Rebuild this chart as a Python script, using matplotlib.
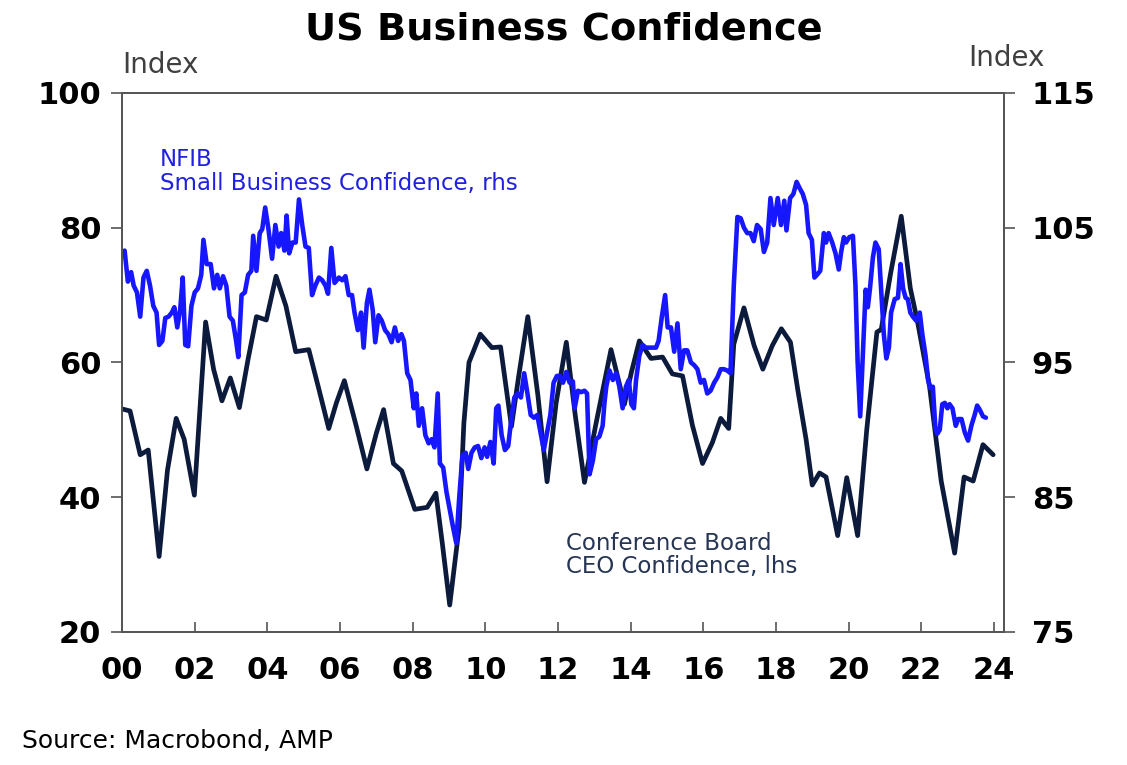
import matplotlib.pyplot as plt

# NFIB small business optimism index (rhs)
nfib_year = [2000.07, 2000.16, 2000.25, 2000.32, 2000.41, 2000.50, 2000.59, 2000.68, 2000.77, 2000.86, 2000.95,
             2001.02, 2001.11, 2001.19, 2001.28, 2001.37, 2001.44, 2001.52, 2001.60, 2001.67, 2001.74, 2001.82, 2001.91,
             2002.00, 2002.09, 2002.18, 2002.24, 2002.33, 2002.44, 2002.53, 2002.62, 2002.69, 2002.78, 2002.87, 2002.96,
             2003.05, 2003.14, 2003.20, 2003.29, 2003.38, 2003.47, 2003.56, 2003.61, 2003.70, 2003.79, 2003.86, 2003.94,
             2004.03, 2004.13, 2004.22, 2004.31, 2004.38, 2004.47, 2004.53, 2004.60, 2004.69, 2004.78, 2004.87, 2004.96,
             2005.05, 2005.14, 2005.23, 2005.32, 2005.42, 2005.51, 2005.60, 2005.67, 2005.76, 2005.85, 2005.97,
             2006.06, 2006.15, 2006.24, 2006.33, 2006.40, 2006.49, 2006.58, 2006.65, 2006.74, 2006.81, 2006.90, 2006.97,
             2007.06, 2007.15, 2007.24, 2007.33, 2007.42, 2007.51, 2007.60, 2007.69, 2007.76, 2007.85, 2007.94,
             2008.03, 2008.10, 2008.17, 2008.26, 2008.35, 2008.44, 2008.52, 2008.60, 2008.69, 2008.75, 2008.84, 2008.93,
             2009.02, 2009.11, 2009.20, 2009.28, 2009.37, 2009.46, 2009.53, 2009.62, 2009.71, 2009.80, 2009.89, 2009.98,
             2010.05, 2010.14, 2010.23, 2010.30, 2010.36, 2010.45, 2010.54, 2010.63, 2010.72, 2010.80, 2010.89, 2010.98,
             2011.07, 2011.16, 2011.25, 2011.34, 2011.43, 2011.52, 2011.61, 2011.70, 2011.79, 2011.88, 2011.97,
             2012.05, 2012.14, 2012.23, 2012.32, 2012.41, 2012.46, 2012.55, 2012.64, 2012.73, 2012.80, 2012.87, 2012.96,
             2013.05, 2013.14, 2013.23, 2013.28, 2013.33, 2013.42, 2013.51, 2013.60, 2013.69, 2013.78, 2013.87, 2013.95,
             2014.02, 2014.09, 2014.15, 2014.24, 2014.33, 2014.42, 2014.51, 2014.61, 2014.70, 2014.77, 2014.86, 2014.95,
             2015.02, 2015.11, 2015.20, 2015.29, 2015.38, 2015.47, 2015.56, 2015.66, 2015.75, 2015.84, 2015.93,
             2016.02, 2016.11, 2016.20, 2016.30, 2016.39, 2016.48, 2016.57, 2016.66, 2016.75, 2016.84, 2016.94,
             2017.03, 2017.12, 2017.21, 2017.30, 2017.39, 2017.48, 2017.58, 2017.67, 2017.76, 2017.85, 2017.94,
             2018.05, 2018.14, 2018.23, 2018.29, 2018.39, 2018.48, 2018.57, 2018.64, 2018.74, 2018.83, 2018.90, 2018.99,
             2019.06, 2019.13, 2019.22, 2019.32, 2019.38, 2019.45, 2019.55, 2019.64, 2019.73, 2019.79, 2019.87, 2019.93,
             2020.02, 2020.12, 2020.19, 2020.25, 2020.32, 2020.39, 2020.47, 2020.53, 2020.59, 2020.67, 2020.74, 2020.83,
             2020.90, 2020.97, 2021.04, 2021.11, 2021.17, 2021.27, 2021.36, 2021.43, 2021.50, 2021.57, 2021.63, 2021.70,
             2021.77, 2021.86, 2021.96, 2022.03, 2022.12, 2022.19, 2022.25, 2022.32, 2022.39, 2022.44, 2022.51, 2022.58,
             2022.65, 2022.72, 2022.78, 2022.86, 2022.95, 2023.02, 2023.11, 2023.20, 2023.29, 2023.38, 2023.47, 2023.54,
             2023.61, 2023.70, 2023.78]
nfib = [103.3, 101.0, 101.7, 100.7, 100.2, 98.4, 101.3, 101.8, 100.7, 99.2, 98.7,
        96.3, 96.6, 98.3, 98.4, 98.7, 99.1, 97.6, 98.9, 101.3, 96.3, 96.2, 99.2,
        100.2, 100.5, 101.5, 104.1, 102.3, 102.3, 100.5, 101.5, 100.5, 101.4, 100.7, 98.4,
        98.1, 96.6, 95.4, 100.0, 100.2, 101.5, 101.8, 104.4, 101.8, 104.6, 104.9, 106.5,
        104.9, 102.7, 105.2, 103.6, 104.6, 103.3, 105.9, 103.1, 103.9, 103.9, 107.1, 105.2,
        103.6, 103.5, 100.0, 100.7, 101.3, 101.1, 100.7, 100.1, 103.5, 100.9, 101.3,
        101.1, 101.4, 100.0, 100.0, 98.7, 97.4, 98.7, 96.1, 99.4, 100.4, 98.9, 96.5,
        98.5, 98.1, 97.4, 97.1, 96.5, 97.6, 96.6, 97.1, 96.6, 94.2, 93.7,
        91.6, 92.7, 90.3, 91.6, 89.6, 89.0, 89.3, 88.7, 92.7, 87.5, 87.2, 85.4,
        84.1, 82.8, 81.6, 84.9, 88.1, 88.3, 87.1, 88.3, 88.7, 88.8, 87.9, 88.7,
        88.0, 89.1, 87.5, 91.6, 91.8, 89.6, 88.5, 88.8, 90.9, 92.4, 92.7, 92.4,
        94.2, 92.7, 91.1, 90.9, 91.1, 89.8, 88.5, 89.8, 91.1, 93.5, 94.0,
        94.0, 93.5, 94.3, 93.5, 93.6, 91.6, 92.9, 92.8, 92.9, 92.7, 86.7, 87.7,
        89.3, 89.5, 90.3, 92.0, 93.2, 94.4, 93.7, 94.2, 93.2, 91.6, 93.2, 93.7,
        91.9, 91.6, 93.7, 95.5, 96.3, 96.1, 96.1, 96.1, 96.1, 96.6, 98.4, 100.0,
        97.6, 97.6, 95.8, 97.9, 94.5, 95.9, 95.9, 95.0, 94.8, 94.5, 93.5,
        93.7, 92.7, 92.9, 93.5, 93.9, 94.5, 94.5, 94.4, 94.2, 100.7, 105.8,
        105.7, 105.0, 104.6, 104.6, 104.0, 105.2, 104.9, 103.2, 103.9, 107.2, 105.2,
        107.2, 105.2, 107.0, 104.8, 107.2, 107.5, 108.4, 108.0, 107.5, 106.7, 104.6, 104.1,
        101.3, 101.5, 101.8, 104.6, 103.9, 104.6, 103.9, 103.1, 101.9, 103.1, 104.3, 103.9,
        104.3, 104.4, 100.7, 95.0, 91.0, 95.3, 100.4, 99.1, 100.5, 102.8, 103.9, 103.4,
        100.2, 97.1, 95.3, 96.1, 98.7, 99.7, 99.8, 102.3, 100.5, 99.8, 99.7, 98.7,
        98.4, 98.1, 98.7, 97.1, 95.5, 93.7, 93.1, 93.2, 90.1, 89.7, 90.0, 91.9,
        92.0, 91.6, 91.9, 91.6, 90.3, 90.8, 90.8, 89.8, 89.2, 90.3, 91.1, 91.8,
        91.5, 91.0, 90.9]

# Conference Board CEO confidence (lhs)
ceo_year = [2000.00, 2000.22, 2000.50, 2000.72, 2001.02, 2001.25, 2001.49, 2001.71, 2001.99, 2002.30,
            2002.52, 2002.75, 2002.98, 2003.23, 2003.47, 2003.70, 2003.97, 2004.24, 2004.51, 2004.78,
            2005.14, 2005.42, 2005.69, 2005.90, 2006.12, 2006.45, 2006.74, 2007.00, 2007.20, 2007.47,
            2007.70, 2008.06, 2008.40, 2008.64, 2008.82, 2009.02, 2009.28, 2009.41, 2009.55, 2009.86,
            2010.18, 2010.42, 2010.72, 2010.92, 2011.17, 2011.45, 2011.70, 2011.95, 2012.23, 2012.48,
            2012.73, 2013.05, 2013.46, 2013.83, 2014.02, 2014.24, 2014.56, 2014.88, 2015.15, 2015.43,
            2015.70, 2015.98, 2016.25, 2016.48, 2016.70, 2016.84, 2017.12, 2017.40, 2017.64, 2017.90,
            2018.15, 2018.40, 2018.60, 2018.83, 2019.00, 2019.20, 2019.38, 2019.70, 2019.95, 2020.25,
            2020.50, 2020.78, 2020.90, 2021.15, 2021.45, 2021.70, 2021.90, 2022.23, 2022.55, 2022.92,
            2023.18, 2023.43, 2023.70, 2023.98]
ceo = [53.1, 52.8, 46.3, 47.0, 31.2, 44.0, 51.7, 48.6, 40.3, 66.0,
       59.0, 54.3, 57.7, 53.3, 60.5, 66.8, 66.3, 72.8, 68.4, 61.6,
       61.9, 56.0, 50.2, 54.0, 57.3, 50.5, 44.2, 49.5, 53.0, 45.0,
       43.9, 38.2, 38.5, 40.6, 33.0, 24.0, 35.6, 51.0, 60.0, 64.2,
       62.2, 62.3, 50.5, 58.0, 66.8, 55.0, 42.3, 54.0, 63.0, 52.0,
       42.2, 51.0, 61.9, 53.8, 58.5, 63.2, 60.6, 60.8, 58.3, 58.0,
       50.7, 45.0, 48.1, 51.7, 50.2, 62.7, 68.1, 62.5, 59.0, 62.5,
       65.0, 63.0, 56.0, 48.6, 41.8, 43.6, 43.0, 34.3, 42.9, 34.3,
       50.0, 64.5, 64.9, 73.0, 81.7, 71.0, 66.0, 56.4, 42.4, 31.7,
       43.0, 42.4, 47.8, 46.3]

left_ticks = [20, 40, 60, 80, 100]
right_ticks = [75, 85, 95, 105, 115]
year_ticks = list(range(2000, 2025, 2))
year_labels = ['%02d' % (y % 100) for y in year_ticks]

fig = plt.figure(figsize=(11.27, 7.65), dpi=100)
ax = fig.add_axes([0.1083, 0.1739, 0.7826, 0.7046])
ax2 = ax.twinx()

ax.plot(ceo_year, ceo, color='#0c1a3c', lw=3.4, solid_joinstyle='round', solid_capstyle='round')
ax2.plot(nfib_year, nfib, color='#1717ff', lw=3.3, solid_joinstyle='round', solid_capstyle='round')

ax.set_xlim(2000, 2024.28)
ax.set_ylim(20, 100)
ax2.set_ylim(75, 115)
ax.set_yticks(left_ticks)
ax2.set_yticks(right_ticks)
ax.set_xticks(year_ticks)
ax.set_xticklabels(year_labels)

# axis styling
for a in (ax, ax2):
    for s in a.spines.values():
        s.set_color('#555555')
        s.set_linewidth(1.3)
ax.tick_params(axis='x', direction='in', length=7, width=1.2, color='#555555', pad=17, labelsize=22)
ax.tick_params(axis='y', direction='out', length=8, width=1.2, color='#555555', pad=7, labelsize=22)
ax2.tick_params(axis='y', direction='out', length=8, width=1.2, color='#555555', pad=12, labelsize=22)
for lab in ax.get_xticklabels() + ax.get_yticklabels() + ax2.get_yticklabels():
    lab.set_fontweight('bold')

# titles and labels
fig.text(0.5, 1 - 40 / 765, 'US Business Confidence', ha='center', va='baseline',
         fontsize=27.5, fontweight='bold')
fig.text(122 / 1127, 1 - 73 / 765, 'Index', fontsize=20, color='#404040', va='baseline')
fig.text(968 / 1127, 1 - 66 / 765, 'Index', fontsize=20, color='#404040', va='baseline')
fig.text(22 / 1127, 1 - 748 / 765, 'Source: Macrobond, AMP', fontsize=18, va='baseline')

# series annotations
ax.text(2001.05, 89.2, 'NFIB', color='#2020e0', fontsize=16.5, va='baseline')
ax.text(2001.05, 85.6, 'Small Business Confidence, rhs', color='#2020e0', fontsize=16.5, va='baseline')
ax.text(2012.23, 32.2, 'Conference Board', color='#263553', fontsize=16.5, va='baseline')
ax.text(2012.23, 28.8, 'CEO Confidence, lhs', color='#263553', fontsize=16.5, va='baseline')

plt.savefig('out.png', dpi=100)
